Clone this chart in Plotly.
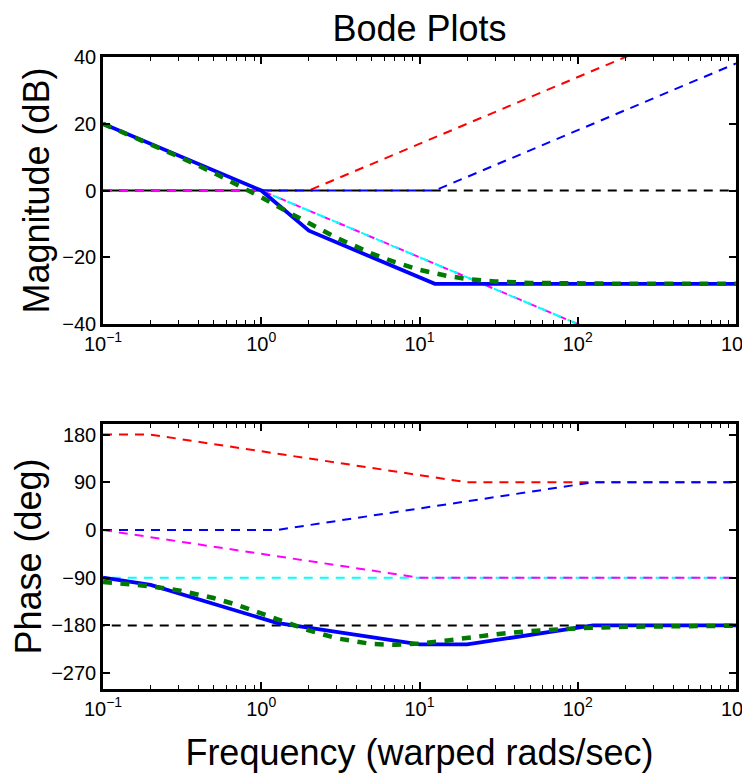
import plotly.graph_objects as go

# ---------------- data ----------------
# exact response (green dashed)
freq_exact = [0.1, 0.2, 0.3, 0.5, 0.7, 1, 1.5, 2, 3, 5, 7, 10, 15, 20, 30, 50, 100, 200, 500, 1000]
mag_exact = [19.97, 13.85, 10.18, 5.32, 1.88, -2.01, -6.64, -9.89, -14.18, -18.88, -21.48,
             -23.75, -25.61, -26.50, -27.25, -27.69, -27.89, -27.94, -27.96, -27.96]
phase_exact = [-98.1, -106.1, -113.9, -128.3, -141.1, -157.0, -176.3, -189.4, -204.4, -215.1,
               -216.7, -214.3, -208.4, -203.4, -196.9, -190.6, -185.4, -182.7, -181.1, -180.5]

# asymptotic total (solid blue)
mag_total_f = [0.1, 1, 2, 12.5, 1000]
mag_total = [20, 0, -12.04, -27.96, -27.96]
ph_total_f = [0.1, 0.2, 1.25, 10, 20, 125, 1000]
ph_total = [-90, -103.5, -175.2, -215.8, -215.8, -180, -180]

# individual factors (dashed asymptotes)
red_mag_f, red_mag = [0.1, 2, 1000], [0, 0, 53.98]
red_ph_f, red_ph = [0.1, 0.2, 20, 1000], [180, 180, 90, 90]
blue_mag_f, blue_mag = [0.1, 12.5, 1000], [0, 0, 38.06]
blue_ph_f, blue_ph = [0.1, 1.25, 125, 1000], [0, 0, 90, 90]
mag_mag_f, magenta_mag = [0.1, 1, 1000], [0, 0, -60]
mag_ph_f, magenta_ph = [0.1, 10, 1000], [0, -90, -90]
cyan_mag_f, cyan_mag = [0.09, 1000], [20.92, -60]      # integrator 1/s
cyan_ph_f, cyan_ph = [0.09, 1000], [-90, -90]
black_f, black_mag, black_ph = [0.09, 1000], [0, 0], [-180, -180]   # gain of -1

x_tickvals = [0.1, 1, 10, 100, 1000]
x_ticktext = ["10<sup>−1</sup>", "10<sup>0</sup>", "10<sup>1</sup>", "10<sup>2</sup>", "10<sup>3</sup>"]
mag_ticks = [-40, -20, 0, 20, 40]
ph_ticks = [-270, -180, -90, 0, 90, 180]
minor_vals = [m * d for d in [0.1, 1, 10, 100] for m in range(2, 10)]

FONT = "Liberation Sans, Arial, Helvetica, sans-serif"
thin = dict(width=2, dash="9px,7px")

fig = go.Figure()

def dashed(x, y, color, ax):
    fig.add_trace(go.Scatter(x=x, y=y, mode="lines", line=dict(color=color, **thin),
                             xaxis=ax[0], yaxis=ax[1], showlegend=False, hoverinfo="skip"))

for ax, data in [(("x", "y"), [(black_f, black_mag, "black"), (red_mag_f, red_mag, "#ff0000"),
                                (blue_mag_f, blue_mag, "#0000ff"), (mag_mag_f, magenta_mag, "#ff00ff"),
                                (cyan_mag_f, cyan_mag, "#00ffff")]),
                 (("x2", "y2"), [(black_f, black_ph, "black"), (red_ph_f, red_ph, "#ff0000"),
                                  (blue_ph_f, blue_ph, "#0000ff"), (cyan_ph_f, cyan_ph, "#00ffff"),
                                  (mag_ph_f, magenta_ph, "#ff00ff")])]:
    for x, y, c in data:
        dashed(x, y, c, ax)

fig.add_trace(go.Scatter(x=mag_total_f, y=mag_total, mode="lines", line=dict(color="#0000ff", width=3.8),
                         xaxis="x", yaxis="y", showlegend=False))
fig.add_trace(go.Scatter(x=freq_exact, y=mag_exact, mode="lines",
                         line=dict(color="#007a00", width=4.5, dash="9px,8.5px"),
                         xaxis="x", yaxis="y", showlegend=False))
fig.add_trace(go.Scatter(x=ph_total_f, y=ph_total, mode="lines", line=dict(color="#0000ff", width=3.8),
                         xaxis="x2", yaxis="y2", showlegend=False))
fig.add_trace(go.Scatter(x=freq_exact, y=phase_exact, mode="lines",
                         line=dict(color="#007a00", width=4.5, dash="9px,8.5px"),
                         xaxis="x2", yaxis="y2", showlegend=False))

common_x = dict(type="log", range=[-1, 3.00001], tickmode="array", tickvals=x_tickvals, ticktext=x_ticktext,
                ticks="inside", ticklen=7, tickwidth=1.5, tickcolor="black", mirror="allticks",
                showline=True, linewidth=2.5, linecolor="black", showgrid=False, zeroline=False,
                automargin=False, ticklabeloverflow="allow",
                tickfont=dict(size=20, color="black", family=FONT),
                minor=dict(tickmode="array", tickvals=minor_vals, ticks="inside", ticklen=4,
                           tickwidth=1.2, tickcolor="black", showgrid=False))
common_y = dict(ticks="inside", ticklen=7, tickwidth=1.5, tickcolor="black", mirror="allticks",
                showline=True, linewidth=2.5, linecolor="black", showgrid=False, zeroline=False,
                automargin=False,
                tickfont=dict(size=20, color="black", family=FONT), tickmode="array")

# page body has an 8px margin, so the figure is sized/placed to compensate
fig.update_layout(
    width=750, height=776,
    margin=dict(l=95, r=22, t=49, b=95),
    paper_bgcolor="white", plot_bgcolor="white",
    font=dict(family=FONT, color="black"),
    title=dict(text="Bode Plots", xref="paper", x=0.5, xanchor="center", y=1 - 20 / 776, yanchor="middle",
               font=dict(size=36, color="black", family=FONT)),
    xaxis=dict(domain=[0, 1], anchor="y", **common_x),
    yaxis=dict(domain=[0.5775, 1], anchor="x", range=[-40, 40], tickvals=mag_ticks,
               title=dict(text="Magnitude (dB)", font=dict(size=36, family=FONT), standoff=2), **common_y),
    xaxis2=dict(domain=[0, 1], anchor="y2",
                title=dict(text="Frequency (warped rads/sec)", font=dict(size=36, family=FONT), standoff=22),
                **common_x),
    yaxis2=dict(domain=[0, 0.4193], anchor="x2", range=[-300, 200], tickvals=ph_ticks,
                title=dict(text="Phase (deg)", font=dict(size=36, family=FONT), standoff=2), **common_y),
)

fig.write_html("out.html")
